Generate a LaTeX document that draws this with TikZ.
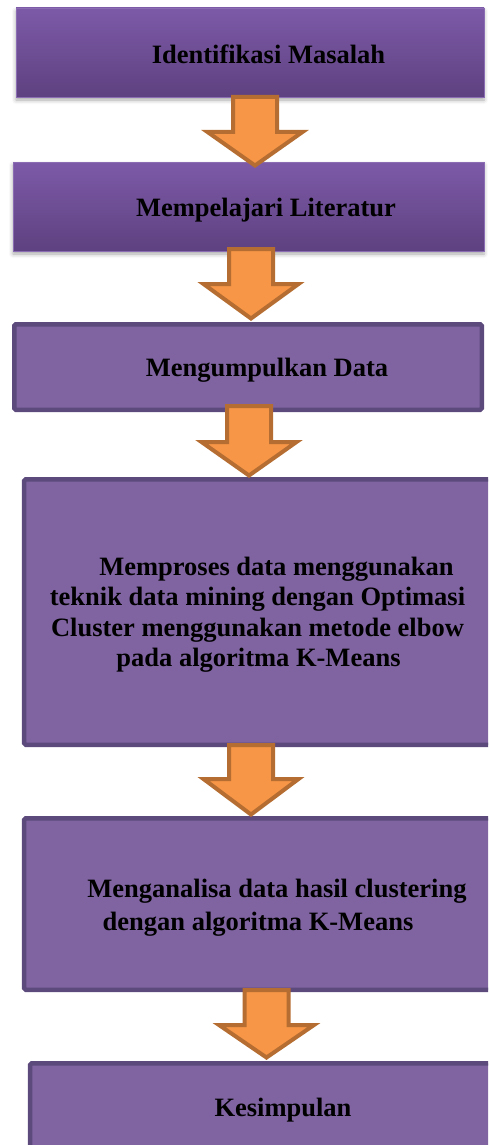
\documentclass[tikz,border=0pt]{standalone}
\usepackage{fontspec}
\setmainfont{Liberation Serif}
\usetikzlibrary{shadings,shadows.blur}
\definecolor{purpF}{HTML}{8064A2}
\definecolor{purpD}{HTML}{5C4A7C}
\definecolor{purpT}{HTML}{7D5AA8}
\definecolor{purpB}{HTML}{5E4180}
\definecolor{purpE}{HTML}{8A6DB2}
\definecolor{orF}{HTML}{F79646}
\definecolor{orD}{HTML}{B66D31}
\tikzset{
  gradbox/.style={rectangle, inner sep=0pt, top color=purpT, bottom color=purpB,
    draw=purpE, line width=0.8pt,
    blur shadow={shadow xshift=0pt, shadow yshift=-3pt, shadow blur radius=4pt, shadow opacity=35}},
  flatbox/.style={rectangle, inner sep=0pt, fill=purpF, draw=purpD, line width=4.5pt, rounded corners=1.5pt},
  lbl/.style={anchor=base, inner sep=0pt, font=\fontsize{26.5}{31}\selectfont\bfseries, text=black},
  blockarrow/.style={fill=orF, draw=orD, line width=4pt, miter limit=10}
}
% block arrow: #1 name, #2 centre x, #3 top y, #4 head y, #5 tip y
\newcommand\blockarr[5]{%
  \coordinate (#1) at (#2,#5-2.5);
  \draw[blockarrow] (#2-22,#3+2) -- (#2+22,#3+2) -- (#2+22,#4+2) -- (#2+47.5,#4+2)
    -- (#1) -- (#2-47.5,#4+2) -- (#2-22,#4+2) -- cycle;}
\begin{document}
\begin{tikzpicture}[x=1pt,y=-1pt]
\useasboundingbox (0,0) rectangle (488,1145);
\clip (0,0) rectangle (488,1145);
% boxes
\node[gradbox, minimum width=468pt, minimum height=89pt] (b1) at (250,52.5) {};
\node[gradbox, minimum width=471pt, minimum height=89pt] (b2) at (248.5,206.5) {};
\node[flatbox, minimum width=467.5pt, minimum height=85.5pt] (b3) at (248,367) {};
\node[flatbox, minimum width=476pt, minimum height=265.5pt] (b4) at (262.2,612) {};
\node[flatbox, minimum width=476pt, minimum height=171.5pt] (b5) at (262.2,904) {};
\node[flatbox, minimum width=470pt, minimum height=100pt] (b6) at (265.2,1113.25) {};
% labels
\node[lbl] (t1) at (268.5,63.3) {Identifikasi Masalah};
\node[lbl] (t2) at (266,216.7) {Mempelajari Literatur};
\node[lbl] (t3) at (267,376.7) {Mengumpulkan Data};
\node[lbl] (t4a) at (276.5,575) {Memproses data menggunakan};
\node[lbl] (t4b) at (257.5,605.7) {teknik data mining dengan Optimasi};
\node[lbl] (t4c) at (257.5,636.7) {Cluster menggunakan metode elbow};
\node[lbl] (t4d) at (258.5,666.7) {pada algoritma K-Means};
\node[lbl] (t5a) at (277,897.7) {Menganalisa data hasil clustering};
\node[lbl] (t5b) at (258,930.7) {dengan algoritma K-Means};
\node[lbl] (t6) at (283,1116.7) {Kesimpulan};
% arrows
\blockarr{a1}{255}{95}{130}{168}
\blockarr{a2}{251}{247}{282}{321}
\blockarr{a3}{249}{404}{440}{478}
\blockarr{a4}{251}{743}{777}{817}
\blockarr{a5}{266.5}{988}{1023}{1060}
\end{tikzpicture}
\end{document}
